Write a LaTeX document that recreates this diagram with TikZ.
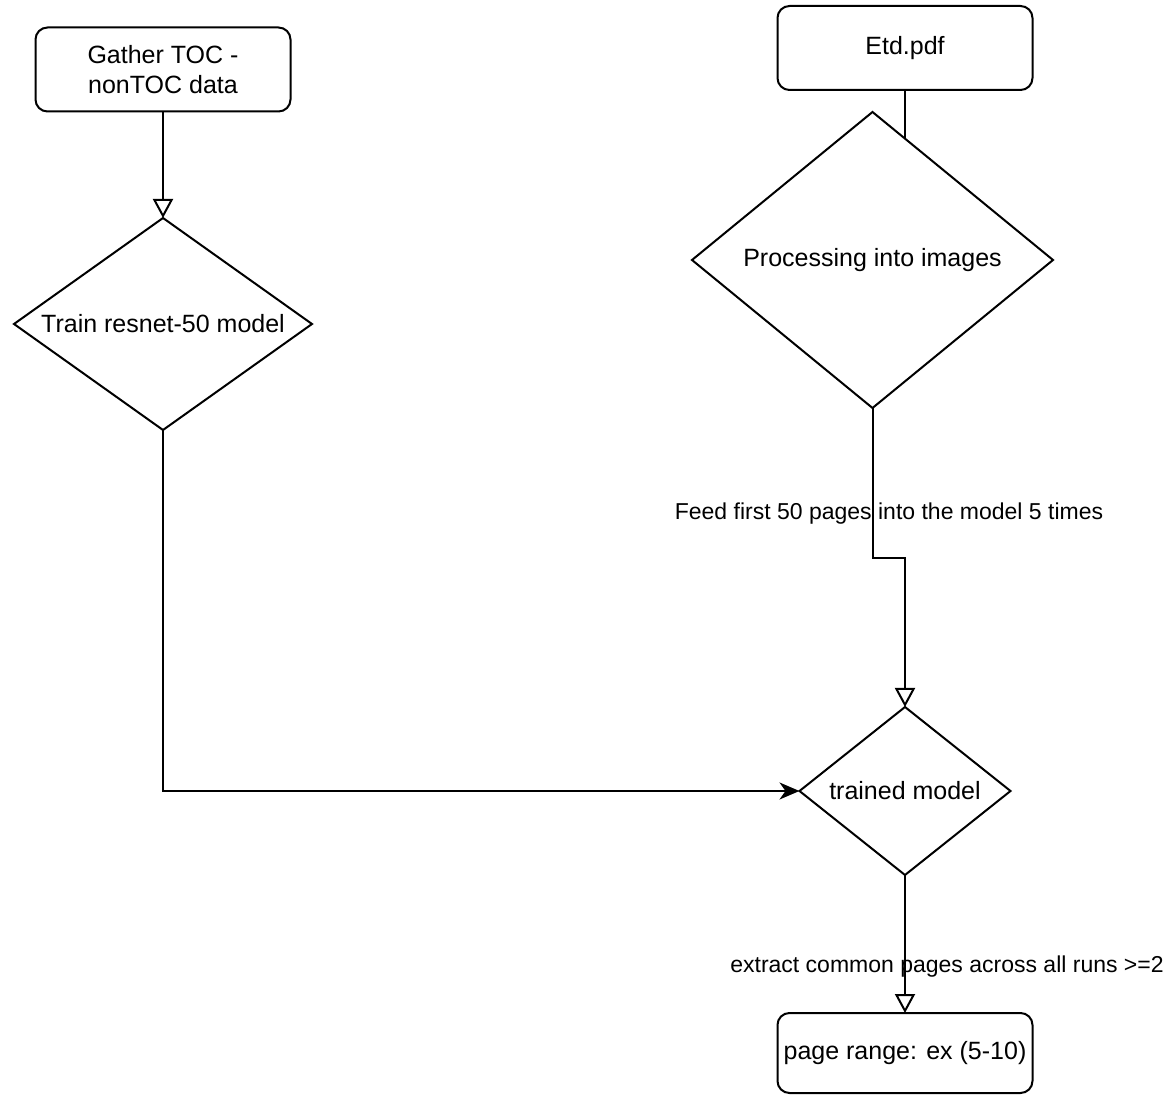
\documentclass[tikz,border=0pt]{standalone}
\usepackage{fontspec}
\setmainfont{Liberation Sans}
\usetikzlibrary{shapes.geometric,arrows.meta,calc}

\newlength{\du}
\setlength{\du}{0.5pt}
\definecolor{dialinecolor}{rgb}{0.000000, 0.000000, 0.000000}

\tikzset{
  roundbox/.style={draw=dialinecolor, line width=1pt, rounded corners=6pt,
    minimum width=255\du, minimum height=84\du, inner sep=0pt, outer sep=0pt,
    align=center, font=\fontsize{12.5}{15}\selectfont},
  decision/.style={draw=dialinecolor, line width=1pt, diamond, inner sep=0pt,
    outer sep=0pt, align=center, font=\fontsize{12.5}{15}\selectfont},
  flowline/.style={draw=dialinecolor, line width=1pt},
  openhead/.style={flowline, -{Triangle[open, length=9.5pt, width=10pt]}},
  solidhead/.style={flowline, -{Stealth[length=10pt, width=8.5pt, inset=3pt]}},
  edgelabel/.style={inner sep=0pt, font=\fontsize{11.5}{14}\selectfont},
}

\begin{document}
\begin{tikzpicture}
\pgftransformxscale{1.000000}
\pgftransformyscale{-1.000000}
\useasboundingbox (0\du,0\du) rectangle (1173\du,1095\du);
% training column
\node[roundbox] (gather) at (163\du,69.5\du) {Gather TOC -\\nonTOC data};
\node[decision, aspect=1.406, minimum width=298\du, minimum height=212\du] (train) at (163\du,324\du) {Train resnet-50 model};
% document column
\node[roundbox] (etd) at (905\du,48\du) {Etd.pdf};
\node[decision, aspect=1.22, minimum width=361\du, minimum height=296\du] (proc) at (872.5\du,260\du) {Processing into images};
\node[decision, aspect=1.256, minimum width=211\du, minimum height=168\du] (trained) at (905\du,791\du) {trained model};
\node[roundbox, minimum height=80\du] (range) at (905\du,1053\du) {page range: ex (5-10)};
% labels
\node[edgelabel] (feedlabel) at (889\du,514\du) {Feed first 50 pages into the model 5 times};
\node[edgelabel] (extractlabel) at (947\du,967\du) {extract common pages across all runs >=2};
% connectors
\coordinate (etdjoin) at ($(proc.north)!0.178!(proc.east)$);
\coordinate (feedbend) at (0\du,558\du);
\draw[openhead] (gather.south) -- (train.north);
\draw[solidhead] (train.south) |- (trained.west);
\draw[flowline] (etd.south) -- (etd.south |- etdjoin);
\draw[openhead] (proc.south) |- (trained.north |- feedbend) -- (trained.north);
\draw[openhead] (trained.south) -- (range.north);
\end{tikzpicture}
\end{document}
